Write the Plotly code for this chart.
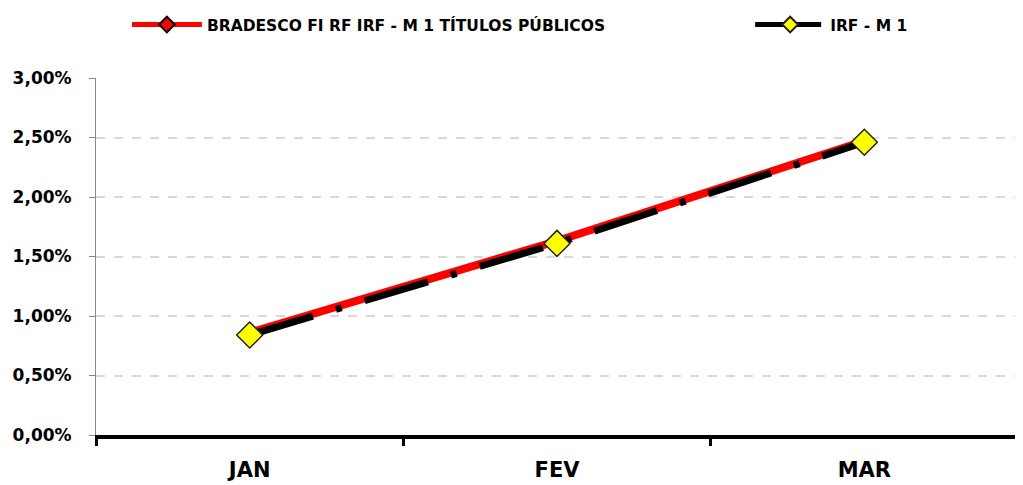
import plotly.graph_objects as go

months = ["JAN", "FEV", "MAR"]
fundo = [0.0086, 0.0163, 0.0247]
irf_m1 = [0.0084, 0.0161, 0.0246]
y_ticks = [0, 0.005, 0.01, 0.015, 0.02, 0.025, 0.03]

fig = go.Figure()
fig.add_trace(go.Scatter(
    x=months, y=fundo, name="BRADESCO FI RF IRF - M 1 TÍTULOS PÚBLICOS",
    mode="lines+markers", legend="legend",
    line=dict(color="#ff0000", width=8),
    marker=dict(symbol="diamond", size=9, color="#ff0000", line=dict(color="black", width=1.5)),
))
fig.add_trace(go.Scatter(
    x=months, y=irf_m1, name="IRF - M 1",
    mode="lines+markers", legend="legend2",
    line=dict(color="black", width=7, dash="66px,24px,6px,24px"),
    marker=dict(symbol="diamond", size=20, color="#ffff00", line=dict(color="#222222", width=1.5)),
))

font_family = "'DejaVu Sans', sans-serif"
legend_font = dict(size=15.5, family=font_family, color="black", weight="bold")
fig.update_layout(
    width=1023, height=485,
    margin=dict(l=88, r=13, t=70, b=58),
    plot_bgcolor="white", paper_bgcolor="white",
    separators=",.",
    font=dict(family=font_family, color="black", size=16),
    showlegend=True,
    legend=dict(
        orientation="h", x=0.0335, xanchor="left",
        y=1.0, yanchor="top", yref="container",
        font=legend_font, itemwidth=70, itemsizing="constant",
    ),
    legend2=dict(
        orientation="h", x=0.7095, xanchor="left",
        y=1.0, yanchor="top", yref="container",
        font=legend_font, itemwidth=70, itemsizing="constant",
    ),
)
fig.update_xaxes(
    type="category", range=[-0.5, 2.5],
    showline=True, linecolor="black", linewidth=4,
    ticks="outside", ticklen=7, tickwidth=3, tickcolor="black",
    tickson="boundaries", showgrid=False,
    tickfont=dict(size=21, weight="bold"),
    ticklabelstandoff=13, automargin=False,
)
fig.update_yaxes(
    range=[0, 0.03], tickvals=y_ticks, tickformat=".2%",
    showline=True, linecolor="#888888", linewidth=1,
    ticks="outside", ticklen=6, tickcolor="#888888",
    showgrid=True, gridcolor="#d9d9d9", gridwidth=1.5, griddash="dash",
    zeroline=False,
    tickfont=dict(size=17, weight="bold"),
    ticklabelstandoff=14, automargin=False,
)
fig.write_html("out.html")
